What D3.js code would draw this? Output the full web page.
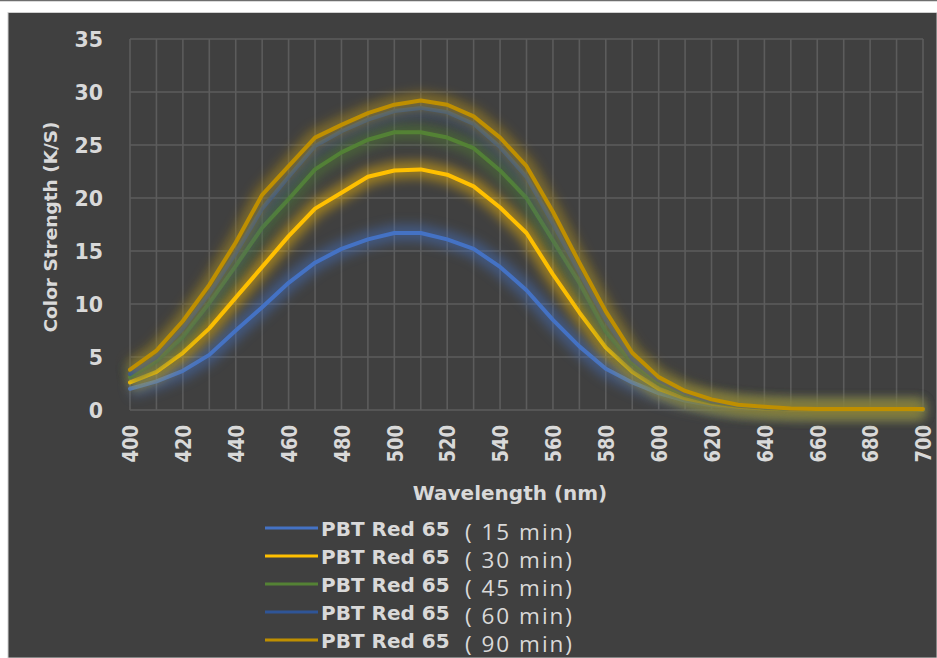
<!DOCTYPE html>
<html>
<head>
<meta charset="utf-8">
<script src="https://cdn.jsdelivr.net/npm/d3@7"></script>
<style>
  html, body { margin: 0; padding: 0; background: #ffffff; }
  svg { display: block; }
</style>
</head>
<body>
<svg id="chart" width="937" height="658"></svg>
<script>
// Wavelength (nm) sampled every 10 nm
const wavelengths = [400, 410, 420, 430, 440, 450, 460, 470, 480, 490, 500,
                     510, 520, 530, 540, 550, 560, 570, 580, 590, 600,
                     610, 620, 630, 640, 650, 660, 670, 680, 690, 700];

// Color strength (K/S) for each dyeing time
const ks15 = [2.0, 2.7, 3.7, 5.2, 7.5, 9.7, 12.0, 13.9, 15.2, 16.1, 16.7,
              16.7, 16.1, 15.2, 13.5, 11.3, 8.5, 6.0, 3.9, 2.6, 1.6,
              0.9, 0.45, 0.2, 0.1, 0.05, 0.05, 0.05, 0.05, 0.05, 0.05];
const ks30 = [2.6, 3.6, 5.4, 7.7, 10.6, 13.5, 16.4, 19.0, 20.5, 22.0, 22.6,
              22.7, 22.2, 21.1, 19.1, 16.7, 12.8, 9.2, 5.9, 3.6, 2.0,
              1.1, 0.6, 0.3, 0.15, 0.08, 0.05, 0.05, 0.05, 0.05, 0.05];
const ks45 = [3.1, 4.6, 6.9, 10.1, 13.6, 17.2, 19.9, 22.7, 24.3, 25.5, 26.2,
              26.2, 25.7, 24.7, 22.6, 20.0, 16.0, 12.0, 7.4, 4.4, 2.5,
              1.4, 0.75, 0.4, 0.2, 0.1, 0.08, 0.08, 0.08, 0.08, 0.08];
const ks60 = [3.4, 5.0, 7.7, 11.0, 14.8, 19.0, 22.0, 24.9, 26.3, 27.4, 28.2,
              28.5, 28.1, 27.0, 24.8, 22.0, 17.6, 13.0, 8.5, 4.8, 2.8,
              1.6, 0.85, 0.45, 0.25, 0.12, 0.1, 0.1, 0.1, 0.1, 0.1];
const ks90 = [3.8, 5.6, 8.4, 11.8, 15.8, 20.3, 23.0, 25.7, 26.9, 28.0, 28.8,
              29.2, 28.8, 27.7, 25.7, 23.0, 18.7, 13.9, 9.3, 5.4, 3.1,
              1.8, 1.0, 0.5, 0.3, 0.15, 0.1, 0.1, 0.1, 0.1, 0.1];

const seriesNames = ["PBT Red 65", "PBT Red 65", "PBT Red 65", "PBT Red 65", "PBT Red 65"];
const seriesTimes = ["( 15 min)", "( 30 min)", "( 45 min)", "( 60 min)", "( 90 min)"];
const seriesValues = [ks15, ks30, ks45, ks60, ks90];
const seriesColors = ["#4472C4", "#FFC000", "#548235", "#2F5597", "#BF8F00"];

const yTicks = [0, 5, 10, 15, 20, 25, 30, 35];
const xTicks = [400, 420, 440, 460, 480, 500, 520, 540, 560, 580, 600,
                620, 640, 660, 680, 700];
const xGrid = wavelengths;

const svg = d3.select("#chart");
const W = 937, H = 658;
const textColor = "#d9d9d9";
const gridColor = "#5c5c5c";
const boldFont = "'DejaVu Sans', sans-serif";

// Outer frame: thin top rule, white margin, dark chart background
svg.append("rect").attr("x", 0).attr("y", 0).attr("width", W).attr("height", H).attr("fill", "#ffffff");
svg.append("line").attr("x1", 0).attr("x2", W).attr("y1", 0.5).attr("y2", 0.5)
  .attr("stroke", "#6e6e6e").attr("stroke-width", 1.5);
svg.append("rect").attr("x", 8).attr("y", 12.5).attr("width", W - 8).attr("height", H - 12.5)
  .attr("fill", "#404040").attr("stroke", "#cfcfcf").attr("stroke-width", 1);

const x = d3.scaleLinear().domain([400, 700]).range([130, 923]);
const y = d3.scaleLinear().domain([0, 35]).range([410, 39]);

// Gridlines
const grid = svg.append("g").attr("class", "grid");
grid.selectAll("line.h").data(yTicks).join("line").attr("class", "h")
  .attr("x1", x(400)).attr("x2", x(700))
  .attr("y1", d => y(d)).attr("y2", d => y(d))
  .attr("stroke", gridColor).attr("stroke-width", 1.6);
grid.selectAll("line.v").data(xGrid).join("line").attr("class", "v")
  .attr("x1", d => x(d)).attr("x2", d => x(d))
  .attr("y1", y(35)).attr("y2", y(0))
  .attr("stroke", gridColor).attr("stroke-width", 1.6);

// Y axis tick labels
const yAxis = d3.axisLeft(y).tickValues(yTicks).tickSize(0).tickPadding(0);
const yg = svg.append("g").attr("transform", "translate(103,0)").call(yAxis);
yg.select(".domain").remove();
yg.selectAll("text")
  .attr("fill", textColor).attr("font-family", boldFont).attr("font-weight", "bold")
  .attr("font-size", 20.5).attr("dy", "0.36em").attr("x", 0);

// X axis tick labels (rotated, glyphs slightly widened)
const xAxis = d3.axisBottom(x).tickValues(xTicks).tickSize(0).tickPadding(0);
const xg = svg.append("g").attr("transform", "translate(0,425)").call(xAxis);
xg.select(".domain").remove();
xg.selectAll("text")
  .attr("fill", textColor).attr("font-family", boldFont).attr("font-weight", "bold")
  .attr("font-size", 18).attr("text-anchor", "end")
  .attr("transform", "rotate(-90) scale(1,1.2)").attr("x", 0).attr("y", 0).attr("dy", "0.36em");

// Axis titles
svg.append("text").attr("x", 510).attr("y", 500).attr("text-anchor", "middle")
  .attr("fill", textColor).attr("font-family", boldFont).attr("font-weight", "bold")
  .attr("font-size", 20).text("Wavelength (nm)");
svg.append("text").attr("transform", "translate(57,227) rotate(-90)").attr("text-anchor", "middle")
  .attr("fill", textColor).attr("font-family", boldFont).attr("font-weight", "bold")
  .attr("font-size", 18.5).text("Color Strength (K/S)");

// Soft glow around each curve
const defs = svg.append("defs");
defs.append("filter").attr("id", "glow").attr("filterUnits", "userSpaceOnUse")
  .attr("x", 0).attr("y", 0).attr("width", W).attr("height", H)
  .append("feGaussianBlur").attr("stdDeviation", 6);

const line = d3.line().x((d, i) => x(wavelengths[i])).y(d => y(d));

const curves = svg.append("g").attr("class", "curves");
seriesValues.forEach((vals, k) => {
  const g = curves.append("g");
  g.append("path").datum(vals).attr("d", line)
    .attr("fill", "none").attr("stroke", seriesColors[k]).attr("stroke-width", 16)
    .attr("stroke-linejoin", "round").attr("opacity", 0.5).attr("filter", "url(#glow)");
  g.append("path").datum(vals).attr("d", line)
    .attr("fill", "none").attr("stroke", seriesColors[k]).attr("stroke-width", 4)
    .attr("stroke-linejoin", "round").attr("stroke-linecap", "round");
});

// Legend
const legend = svg.append("g").attr("class", "legend");
seriesNames.forEach((name, k) => {
  const cy = 528 + k * 28;
  legend.append("line").attr("x1", 265).attr("x2", 318).attr("y1", cy).attr("y2", cy)
    .attr("stroke", seriesColors[k]).attr("stroke-width", 3);
  legend.append("text").attr("x", 321).attr("y", cy + 8)
    .attr("fill", textColor).attr("font-family", boldFont).attr("font-weight", "bold")
    .attr("font-size", 20).text(name);
  legend.append("text").attr("x", 465).attr("y", cy + 12)
    .attr("fill", textColor).attr("font-family", "'Open Sans', sans-serif")
    .attr("font-size", 22.5).attr("textLength", 107).attr("lengthAdjust", "spacing")
    .text(seriesTimes[k]);
});
</script>
</body>
</html>
